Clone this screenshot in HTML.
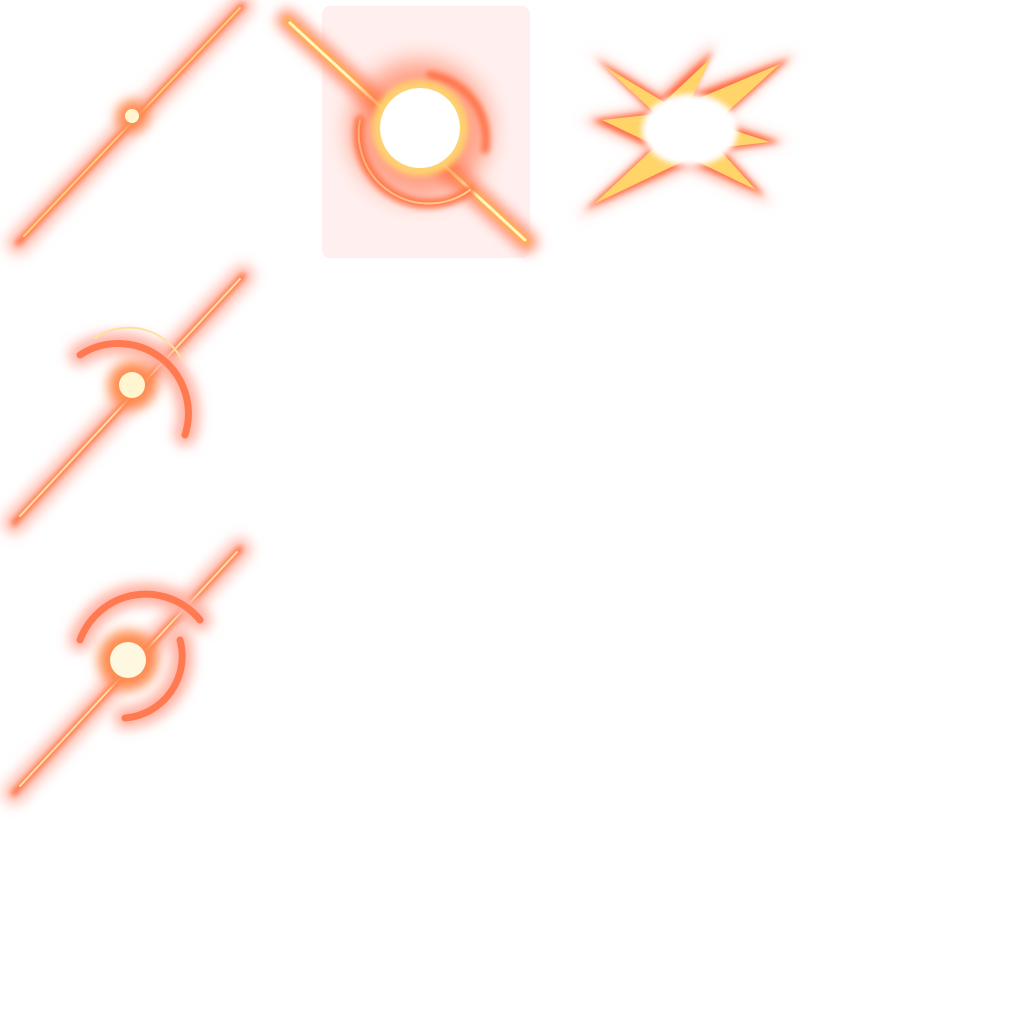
<!DOCTYPE html>
<html><head><meta charset="utf-8"><style>html,body{margin:0;padding:0;background:#fff;width:1024px;height:1024px;overflow:hidden}</style></head>
<body>
<svg width="1024" height="1024" viewBox="0 0 1024 1024" xmlns="http://www.w3.org/2000/svg">
<defs>
<filter id="g1" x="-50%" y="-50%" width="200%" height="200%"><feGaussianBlur stdDeviation="6"/></filter>
<filter id="g2" x="-50%" y="-50%" width="200%" height="200%"><feGaussianBlur stdDeviation="3"/></filter>
<filter id="g3" x="-50%" y="-50%" width="200%" height="200%"><feGaussianBlur stdDeviation="12"/></filter>
</defs>

<!-- Sprite 1 -->
<g stroke-linecap="round" fill="none">
<line x1="18" y1="243" x2="242" y2="6" stroke="#ffc4b8" stroke-width="24" filter="url(#g1)"/>
<line x1="18" y1="243" x2="242" y2="6" stroke="#ff6a3a" stroke-width="6" filter="url(#g2)"/>
<line x1="24" y1="236" x2="240" y2="8" stroke="#ffd070" stroke-width="2"/>
</g>
<circle cx="132" cy="116" r="16" fill="#ff8a50" filter="url(#g1)"/>
<circle cx="132" cy="116" r="7" fill="#fff6d0"/>

<!-- Sprite 2 -->
<rect x="322" y="6" width="208" height="252" rx="8" fill="#fff0ef"/>
<g stroke-linecap="round" fill="none">
<line x1="287" y1="20" x2="527" y2="242" stroke="#ff9a80" stroke-width="22" filter="url(#g1)"/>
<line x1="287" y1="20" x2="527" y2="242" stroke="#ffb040" stroke-width="7" filter="url(#g2)"/>
<line x1="290" y1="23" x2="525" y2="240" stroke="#fff6c0" stroke-width="3"/>
<path d="M360 120 A70 70 0 0 0 470 190" stroke="#ff7a50" stroke-width="10" filter="url(#g2)"/>
<path d="M430 75 A65 65 0 0 1 485 150" stroke="#ff7a50" stroke-width="8" filter="url(#g2)"/>
<path d="M360 120 A70 70 0 0 0 470 190" stroke="#ffe0a0" stroke-width="2"/>
</g>
<circle cx="420" cy="130" r="70" fill="#ff6a40" opacity="0.6" filter="url(#g3)"/>
<circle cx="420" cy="128" r="48" fill="#ffd070" filter="url(#g2)"/>
<circle cx="420" cy="128" r="40" fill="#ffffff"/>

<!-- Sprite 3 -->
<polygon points="690,92 798,52 722,120 788,142 726,152 772,204 688,168 576,218 648,150 582,120 648,108 588,50 660,94 716,40" fill="#ffb8a8" filter="url(#g1)"/>
<polygon points="690,96 790,58 718,122 780,142 722,150 765,196 690,162 585,210 652,148 592,120 652,112 596,58 662,98 713,50" fill="#ff6a40" filter="url(#g2)"/>
<polygon points="690,102 780,64 714,124 770,142 718,148 756,190 690,158 594,204 656,146 602,120 656,114 604,66 664,102 711,58" fill="#ffd468"/>
<ellipse cx="690" cy="130" rx="48" ry="36" fill="#fff" filter="url(#g2)"/>
<ellipse cx="690" cy="130" rx="40" ry="30" fill="#fff"/>

<!-- Sprite 4 -->
<g stroke-linecap="round" fill="none">
<line x1="14" y1="523" x2="243" y2="276" stroke="#ffc4b8" stroke-width="24" filter="url(#g1)"/>
<line x1="14" y1="523" x2="243" y2="276" stroke="#ff6a3a" stroke-width="6" filter="url(#g2)"/>
<line x1="20" y1="516" x2="240" y2="279" stroke="#ffe0a0" stroke-width="2"/>
<path d="M80 355 A70 70 0 0 1 185 435" stroke="#ffb0a0" stroke-width="22" filter="url(#g1)"/>
<path d="M80 355 A70 70 0 0 1 185 435" stroke="#ff7a50" stroke-width="7"/>
<path d="M95 338 A60 60 0 0 1 182 360" stroke="#ffe0a0" stroke-width="2"/>
</g>
<circle cx="132" cy="385" r="24" fill="#ff8a50" filter="url(#g1)"/>
<circle cx="132" cy="385" r="13" fill="#fff6d0"/>

<!-- Sprite 5 -->
<g stroke-linecap="round" fill="none">
<line x1="14" y1="793" x2="240" y2="549" stroke="#ffc4b8" stroke-width="24" filter="url(#g1)"/>
<line x1="14" y1="793" x2="240" y2="549" stroke="#ff6a3a" stroke-width="6" filter="url(#g2)"/>
<line x1="20" y1="786" x2="237" y2="552" stroke="#ffe0a0" stroke-width="2"/>
<path d="M80 640 A70 70 0 0 1 200 620" stroke="#ffb0a0" stroke-width="22" filter="url(#g1)"/>
<path d="M80 640 A70 70 0 0 1 200 620" stroke="#ff7a50" stroke-width="7"/>
<path d="M180 640 A62 62 0 0 1 125 718" stroke="#ffb0a0" stroke-width="22" filter="url(#g1)"/>
<path d="M180 640 A62 62 0 0 1 125 718" stroke="#ff7a50" stroke-width="7"/>
</g>
<circle cx="128" cy="660" r="30" fill="#ff8a50" filter="url(#g1)"/>
<circle cx="128" cy="660" r="18" fill="#fff8e0"/>
</svg>
</body></html>
